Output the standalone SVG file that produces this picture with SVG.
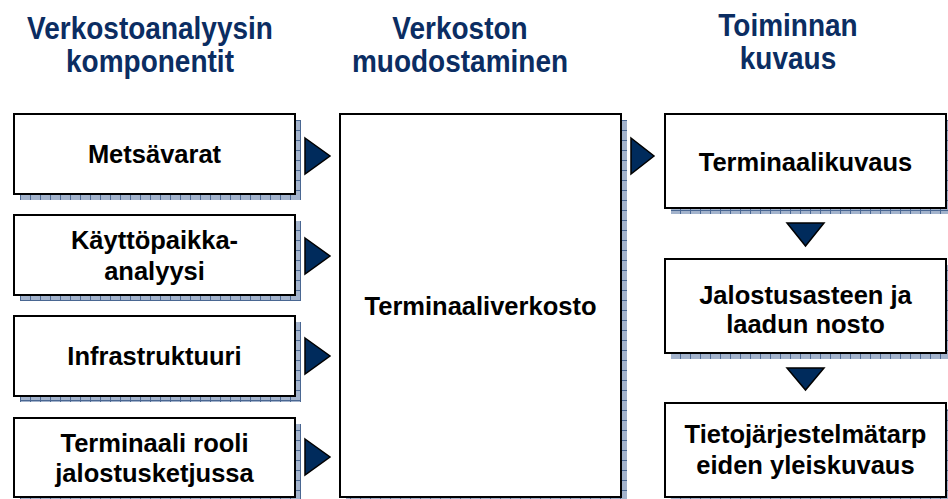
<svg xmlns="http://www.w3.org/2000/svg" width="948" height="499" viewBox="0 0 948 499">
<defs>
<pattern id="sh" width="10" height="10" patternUnits="userSpaceOnUse">
<rect width="10" height="10" fill="#a3b3cc"/>
<path d="M0 0.5H10M0.5 0V10" stroke="#4a6792" stroke-width="1"/>
</pattern>
<style>
.box{fill:#fff;stroke:#000;stroke-width:2}
.shadow{fill:url(#sh)}
.t{font-family:"Liberation Sans",Arial,sans-serif;font-weight:bold;font-size:25.5px;fill:#000;text-anchor:middle}
.h{font-family:"Liberation Sans",Arial,sans-serif;font-weight:bold;font-size:28px;fill:#0b2d62;text-anchor:middle}
.tri{fill:#002b5c;stroke:#000;stroke-width:1.5;stroke-linejoin:miter}
</style>
</defs>
<rect width="948" height="499" fill="#fff"/>
<g id="headers" transform="scale(1,1.12)">
<text class="h" x="150" y="34.8">Verkostoanalyysin</text>
<text class="h" x="150" y="64.3">komponentit</text>
<text class="h" x="460" y="34.8">Verkoston</text>
<text class="h" x="460" y="64.3">muodostaminen</text>
<text class="h" x="788" y="32.1">Toiminnan</text>
<text class="h" x="788" y="61.6">kuvaus</text>
</g>
<g id="n1">
<rect class="shadow" x="20" y="120" width="281" height="80"/>
<rect class="box" x="14" y="114" width="281" height="80"/>
<text class="t" x="154.5" y="163">Metsävarat</text>
</g>
<g id="n2">
<rect class="shadow" x="20" y="221" width="281" height="80"/>
<rect class="box" x="14" y="215" width="281" height="80"/>
<text class="t" x="154.5" y="249">Käyttöpaikka-</text>
<text class="t" x="154.5" y="280">analyysi</text>
</g>
<g id="n3">
<rect class="shadow" x="20" y="322" width="281" height="80"/>
<rect class="box" x="14" y="316" width="281" height="80"/>
<text class="t" x="154.5" y="365">Infrastruktuuri</text>
</g>
<g id="n4">
<rect class="shadow" x="20" y="424" width="281" height="80"/>
<rect class="box" x="14" y="418" width="281" height="79"/>
<text class="t" x="154.5" y="452">Terminaali rooli</text>
<text class="t" x="154.5" y="482">jalostusketjussa</text>
</g>
<g id="n5">
<rect class="shadow" x="346" y="120" width="281" height="383"/>
<rect class="box" x="340" y="114" width="281" height="383"/>
<text class="t" x="480.5" y="315">Terminaaliverkosto</text>
</g>
<g id="n6">
<rect class="shadow" x="671" y="120" width="281" height="94"/>
<rect class="box" x="665" y="114" width="281" height="94"/>
<text class="t" x="805.5" y="171">Terminaalikuvaus</text>
</g>
<g id="n7">
<rect class="shadow" x="671" y="265" width="281" height="94"/>
<rect class="box" x="665" y="259" width="281" height="94"/>
<text class="t" x="805.5" y="304">Jalostusasteen ja</text>
<text class="t" x="805.5" y="333">laadun nosto</text>
</g>
<g id="n8">
<rect class="shadow" x="671" y="409" width="281" height="94"/>
<rect class="box" x="665" y="403" width="281" height="94"/>
<text class="t" x="805.5" y="443">Tietojärjestelmätarp</text>
<text class="t" x="805.5" y="474">eiden yleiskuvaus</text>
</g>
<g id="connectors">
<polygon class="tri" points="305,138 330,156 305,174"/>
<polygon class="tri" points="305,238 330,256 305,274"/>
<polygon class="tri" points="305,338 330,356 305,374"/>
<polygon class="tri" points="305,439 330,457 305,475"/>
<polygon class="tri" points="631,138 654,156 631,174"/>
<polygon class="tri" points="787,223 824,223 805.5,246"/>
<polygon class="tri" points="787,368 824,368 805.5,390"/>
</g>
</svg>
